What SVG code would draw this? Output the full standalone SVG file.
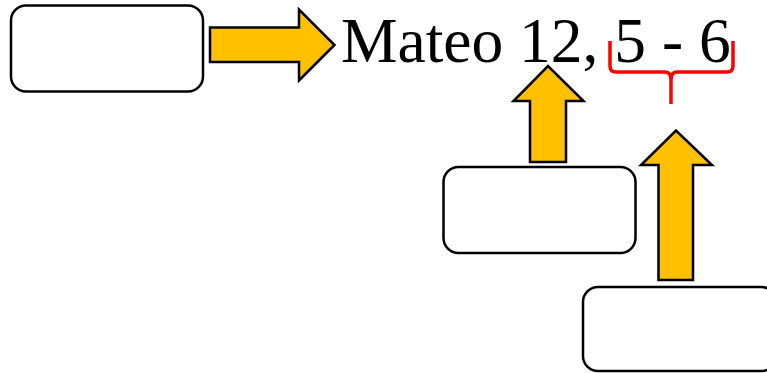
<svg xmlns="http://www.w3.org/2000/svg" width="767" height="373" viewBox="0 0 767 373">
<style>
.box{fill:#fff;stroke:#000;stroke-width:2.5}
.arr{fill:#FFC000;stroke:#000;stroke-width:2.5;stroke-linejoin:miter}
.brace{fill:none;stroke:#FF0000;stroke-width:3.5}
.t{font-family:"Liberation Serif","Times New Roman",serif;font-size:63.5px;fill:#000}
</style>
<rect width="767" height="373" fill="#fff"/>
<g id="box1"><rect class="box" x="11" y="5.5" width="192" height="86" rx="15"/></g>
<g id="box2"><rect class="box" x="443.5" y="167" width="192" height="86" rx="15"/></g>
<g id="box3"><rect class="box" x="583" y="287" width="193" height="84" rx="15"/></g>
<g id="title"><text class="t" x="341" y="62">Mateo 12, 5 - 6</text></g>
<g id="brace"><path class="brace" d="M610 41 V66 Q610 72 616 72 H665 Q671 72 671 80 V104 M671 80 Q671 72 677 72 H727 Q733 72 733 66 V41"/></g>
<g id="connectors">
<path class="arr" d="M210 27.5 H299 V9.5 L334.5 45 L299 80.5 V62 H210 Z"/>
<path class="arr" d="M530 162 V101 H513.5 L548 66 L583.5 101 H566 V162 Z"/>
<path class="arr" d="M658.5 280 V165 H641 L676 130.5 L712 165 H693 V280 Z"/>
</g>
</svg>
